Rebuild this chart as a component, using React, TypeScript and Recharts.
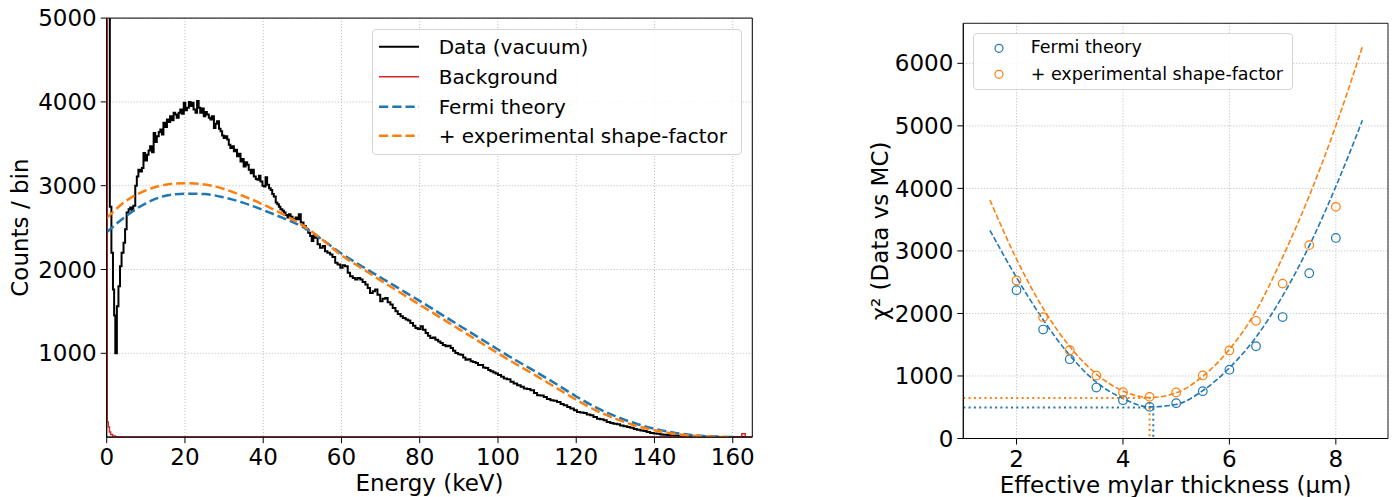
import React from 'react';
import {
  ComposedChart,
  Line,
  Scatter,
  XAxis,
  YAxis,
  CartesianGrid,
  ReferenceArea,
  Legend,
} from 'recharts';

const FONT = '"DejaVu Sans", Verdana, sans-serif';
const BLUE = '#1f77b4';
const ORANGE = '#ff7f0e';
const RED = '#d62728';

// ---- left panel: energy spectrum ----
// measured spectrum, [energy keV, counts/bin], read off the plot
const dataLowE: [number, number][] = [
  [0, 6500], [0.4, 6500], [0.8, 2750], [1.2, 2200], [1.6, 1760], [1.9, 1450], [2.2, 1000],
  [2.6, 1560], [3.0, 1800], [3.4, 2040], [3.8, 2200], [4.3, 2320], [4.7, 2480], [5.1, 2680],
  [5.6, 2720], [6.0, 2740], [6.4, 2700], [6.8, 2760], [7.3, 3000], [7.7, 3110], [8.1, 3190],
  [8.6, 3170], [9.0, 3210], [9.4, 3390], [9.8, 3300],
];
const dataRise: [number, number][] = [
  [10.3, 3370], [10.7, 3420], [11.1, 3470], [11.6, 3400], [12.0, 3630], [12.4, 3520],
  [12.8, 3590], [13.3, 3640], [13.7, 3670], [14.1, 3610], [14.5, 3750], [15.0, 3700],
  [15.4, 3790], [15.8, 3760], [16.2, 3830], [16.7, 3780], [17.1, 3870], [17.5, 3850],
  [17.9, 3810], [18.4, 3870], [18.8, 3910], [19.2, 3860], [19.7, 3990], [20.1, 3900],
  [20.5, 3930], [21.0, 4000], [21.4, 3950], [21.8, 3990], [22.2, 3910], [22.7, 3870],
  [23.1, 4010], [23.5, 3930], [23.9, 3870], [24.4, 3920], [24.8, 3830], [25.2, 3880],
  [25.6, 3850], [26.1, 3810], [26.5, 3790], [26.9, 3830], [27.4, 3690], [27.8, 3740],
  [28.2, 3770], [28.7, 3680], [29.1, 3650], [29.5, 3600], [29.9, 3570], [30.4, 3590],
  [30.8, 3550], [31.2, 3490], [31.6, 3450], [32.1, 3470], [32.5, 3410], [32.9, 3430],
  [33.3, 3350], [33.8, 3380], [34.2, 3290], [34.6, 3320], [35.0, 3230], [35.5, 3280],
  [35.9, 3250], [36.3, 3190], [36.8, 3150], [37.2, 3190], [37.6, 3110], [38.1, 3080],
  [38.5, 3070], [38.9, 3120], [39.3, 3050], [39.8, 3000], [40.2, 2990], [40.6, 3100],
  [41.0, 3010], [41.5, 2970], [41.9, 2950], [42.3, 2900], [42.7, 2870], [43.2, 2800],
  [43.6, 2780], [44.0, 2750], [44.4, 2720], [44.9, 2700], [45.3, 2680], [45.7, 2650],
  [46.2, 2620], [46.6, 2660], [47.0, 2630], [47.5, 2600], [47.9, 2600], [48.3, 2620],
  [48.7, 2600], [49.1, 2660], [49.6, 2560],
];
const dataFall: [number, number][] = [
  [50.3, 2518], [50.9, 2480], [51.5, 2438], [52.0, 2400], [52.4, 2339], [52.8, 2400],
  [53.2, 2378], [53.9, 2300], [54.5, 2259], [55.2, 2280], [55.8, 2219], [56.4, 2200],
  [57.1, 2179], [57.7, 2150], [58.4, 2080], [59.0, 2060], [59.7, 2020], [60.3, 2050],
  [60.9, 2040], [61.6, 1960], [62.2, 1920], [62.9, 1900], [63.5, 1880], [64.1, 1900],
  [64.8, 1880], [65.4, 1850], [66.1, 1821], [66.7, 1780], [67.3, 1721], [68.0, 1740],
  [68.6, 1761], [69.2, 1700], [69.9, 1622], [70.5, 1650], [71.2, 1661], [71.8, 1610],
  [72.5, 1582], [73.1, 1540], [73.8, 1502], [74.4, 1470], [75.1, 1442], [75.7, 1420],
  [76.4, 1402], [77.0, 1390], [77.6, 1363], [78.3, 1330], [78.9, 1303], [79.5, 1290],
  [80.2, 1323], [80.8, 1280], [81.5, 1243], [82.1, 1210], [82.7, 1183], [83.4, 1190],
  [84.0, 1163], [84.7, 1140], [85.3, 1124], [85.9, 1100], [86.6, 1084], [87.2, 1090],
  [87.9, 1064], [88.5, 1030], [89.1, 1004], [89.8, 990], [90.4, 984], [91.1, 950],
  [91.7, 924], [92.3, 930], [93.0, 904], [93.6, 895], [94.3, 884], [94.9, 860],
  [95.6, 860], [96.2, 830], [96.8, 825], [97.5, 800], [98.1, 785], [98.8, 770], [99.4, 760],
];
const dataTail: [number, number][] = [
  [100.0, 740], [100.8, 720], [101.5, 700], [102.3, 690], [103.2, 660], [104.0, 640],
  [104.9, 620], [105.8, 600], [106.6, 580], [107.4, 575], [108.3, 560], [109.2, 525],
  [110.0, 500], [110.8, 495], [111.7, 480], [112.5, 455], [113.4, 440], [114.2, 435],
  [115.1, 420], [116.0, 395], [116.8, 380], [117.7, 360], [118.5, 340], [119.4, 320],
  [120.2, 300], [121.0, 295], [121.9, 288], [122.7, 270], [123.6, 260], [124.4, 240],
  [125.3, 220], [126.1, 212], [127.0, 200], [127.8, 180], [128.7, 168], [129.5, 160],
  [130.4, 152], [131.2, 138], [132.1, 128], [133.0, 120], [133.8, 112], [134.7, 98],
  [135.5, 88], [136.4, 80], [137.2, 72], [138.0, 60], [138.9, 48], [139.8, 44],
  [140.6, 40], [141.5, 32], [142.3, 28], [143.2, 24], [144.0, 20], [145.3, 15],
  [146.6, 12], [148.0, 8], [150.0, 5], [153.0, 3], [156.0, 2], [160.0, 1], [165.0, 1],
];
const background: [number, number][] = [
  [0, 6500], [0.15, 180], [0.4, 120], [0.7, 60], [1.0, 30], [1.5, 12], [2.2, 5], [4, 2],
  [160, 2], [162.3, 40], [163.2, 4], [165, 2],
];

// theory curves (counts/bin) sampled every 5 keV
const theoryEnergy = [
  0, 5, 10, 15, 20, 25, 30, 35, 40, 45, 50, 55, 60, 65, 70, 75, 80,
  85, 90, 95, 100, 105, 110, 115, 120, 125, 130, 135, 140, 145, 150, 155, 160,
];
const fermiCounts = [
  2445, 2640, 2790, 2880, 2905, 2900, 2860, 2795, 2710, 2615, 2510, 2360, 2190, 2045, 1905, 1765, 1625,
  1480, 1335, 1190, 1045, 905, 770, 630, 485, 355, 250, 165, 100, 52, 22, 6, 0,
];
const shapeCounts = [
  2615, 2820, 2945, 3012, 3030, 3015, 2960, 2875, 2775, 2660, 2530, 2360, 2170, 2020, 1870, 1725, 1580,
  1435, 1290, 1145, 1000, 860, 725, 585, 445, 320, 220, 140, 82, 40, 15, 4, 0,
];
const energyTicks = [0, 20, 40, 60, 80, 100, 120, 140, 160];
const countTicks = [1000, 2000, 3000, 4000, 5000];

// ---- right panel: chi2 scan ----
const thickness = [2, 2.5, 3, 3.5, 4, 4.5, 5, 5.5, 6, 6.5, 7, 7.5, 8];
const chi2Fermi = [2371, 1742, 1268, 815, 613, 506, 565, 757, 1100, 1475, 1942, 2643, 3207];
const chi2Shape = [2528, 1940, 1412, 1005, 741, 666, 737, 1008, 1408, 1882, 2477, 3092, 3705];
const fitThickness = [1.5, 2, 2.5, 3, 3.5, 4, 4.5, 5, 5.5, 6, 6.5, 7, 7.5, 8, 8.5];
const fitFermi = [3330, 2575, 1900, 1330, 900, 640, 505, 545, 765, 1130, 1620, 2280, 3080, 4030, 5090];
const fitShape = [3815, 2870, 2080, 1470, 1030, 760, 655, 730, 995, 1425, 2040, 2900, 3880, 5000, 6270];
const minFermi = { x: 4.57, y: 497 };
const minShape = { x: 4.5, y: 647 };
const thicknessTicks = [2, 4, 6, 8];
const chi2Ticks = [0, 1000, 2000, 3000, 4000, 5000, 6000];

const toPts = (rows: [number, number][]) => rows.map(([x, y]) => ({ x, y }));
const zipPts = (xs: number[], ys: number[]) => xs.map((x, i) => ({ x, y: ys[i] }));

const spectrum = toPts([...dataLowE, ...dataRise, ...dataFall, ...dataTail]);
const bkg = toPts(background);
const fermiCurve = zipPts(theoryEnergy, fermiCounts);
const shapeCurve = zipPts(theoryEnergy, shapeCounts);

const chi2FermiPts = zipPts(thickness, chi2Fermi);
const chi2ShapePts = zipPts(thickness, chi2Shape);
const fitFermiPts = zipPts(fitThickness, fitFermi);
const fitShapePts = zipPts(fitThickness, fitShape);
const xMin = 1.0;
const minFermiPath = [{ x: xMin, y: minFermi.y }, minFermi, { x: minFermi.x, y: 0 }];
const minShapePath = [{ x: xMin, y: minShape.y }, minShape, { x: minShape.x, y: 0 }];

const tickStyle = { fill: '#000', fontSize: 23, fontFamily: FONT };
const labelStyle = { fill: '#000', fontSize: 23, fontFamily: FONT };

const leftLegendItems = [
  { name: 'Data (vacuum)', color: '#000', dash: undefined, width: 2 },
  { name: 'Background', color: RED, dash: undefined, width: 1.5 },
  { name: 'Fermi theory', color: BLUE, dash: '9.25 4', width: 2.5 },
  { name: '+ experimental shape-factor', color: ORANGE, dash: '9.25 4', width: 2.5 },
];
const rightLegendItems = [
  { name: 'Fermi theory', color: BLUE },
  { name: '+ experimental shape-factor', color: ORANGE },
];

const boxStyle: React.CSSProperties = {
  boxSizing: 'border-box',
  border: '1px solid #d5d5d5',
  borderRadius: 4,
  background: 'rgba(255,255,255,0.85)',
  fontFamily: FONT,
  color: '#000',
};

const LeftLegend = () => (
  <div style={{ ...boxStyle, width: 370, height: 126, paddingTop: 2, fontSize: 20 }}>
    {leftLegendItems.map((it) => (
      <div key={it.name} style={{ display: 'flex', alignItems: 'center', height: 29.7 }}>
        <svg width={66} height={29.7} style={{ flex: 'none' }}>
          <line x1={6} x2={46} y1={14.85} y2={14.85} stroke={it.color} strokeWidth={it.width} strokeDasharray={it.dash} />
        </svg>
        <span style={{ whiteSpace: 'nowrap', lineHeight: 1 }}>{it.name}</span>
      </div>
    ))}
  </div>
);

const RightLegend = () => (
  <div style={{ ...boxStyle, width: 320, height: 57, paddingTop: 1, fontSize: 17.5 }}>
    {rightLegendItems.map((it) => (
      <div key={it.name} style={{ display: 'flex', alignItems: 'center', height: 26.6 }}>
        <svg width={57} height={26.6} style={{ flex: 'none' }}>
          <circle cx={25} cy={13.3} r={4} fill="none" stroke={it.color} strokeWidth={1.2} />
        </svg>
        <span style={{ whiteSpace: 'nowrap', lineHeight: 1 }}>{it.name}</span>
      </div>
    ))}
  </div>
);

const openCircle = (color: string) => (props: any) => (
  <circle cx={props.cx} cy={props.cy} r={4.3} fill="none" stroke={color} strokeWidth={1.2} />
);

export default function App() {
  return (
    <div style={{ position: 'absolute', left: 0, top: 0, width: 1393, height: 497, background: '#fff' }}>
      <div style={{ position: 'absolute', left: 0, top: 0 }}>
        <ComposedChart width={770} height={497} margin={{ top: 18.1, right: 17.7, bottom: 21.9, left: 12 }}>
          <CartesianGrid stroke="#b8b8b8" strokeDasharray="1 2" />
          <XAxis
            type="number"
            dataKey="x"
            domain={[0, 165]}
            ticks={energyTicks}
            allowDataOverflow
            height={38}
            tickSize={6}
            tickMargin={6}
            tick={tickStyle}
            stroke="#000"
            label={{ value: 'Energy (keV)', position: 'bottom', offset: 0, style: labelStyle }}
          />
          <YAxis
            type="number"
            domain={[0, 5000]}
            ticks={countTicks}
            allowDataOverflow
            width={94.7}
            tickSize={6}
            tickMargin={4}
            tick={tickStyle}
            stroke="#000"
            label={{ value: 'Counts / bin', angle: -90, position: 'insideLeft', offset: 8, style: { ...labelStyle, textAnchor: 'middle' } }}
          />
          <ReferenceArea x1={0} x2={165} y1={0} y2={5000} fill="none" stroke="#000" strokeWidth={1} ifOverflow="visible" />
          <Line data={spectrum} dataKey="y" type="stepAfter" stroke="#000" strokeWidth={2} dot={false} activeDot={false} isAnimationActive={false} />
          <Line data={bkg} dataKey="y" type="stepAfter" stroke={RED} strokeWidth={1.5} dot={false} activeDot={false} isAnimationActive={false} />
          <Line data={fermiCurve} dataKey="y" type="monotone" stroke={BLUE} strokeWidth={2.5} strokeDasharray="9.25 4" dot={false} activeDot={false} isAnimationActive={false} />
          <Line data={shapeCurve} dataKey="y" type="monotone" stroke={ORANGE} strokeWidth={2.5} strokeDasharray="9.25 4" dot={false} activeDot={false} isAnimationActive={false} />
          <Legend
            layout="horizontal"
            verticalAlign="middle"
            align="center"
            content={() => <LeftLegend />}
            wrapperStyle={{ left: 371.7, top: 29.3, width: 370, height: 126 }}
          />
        </ComposedChart>
      </div>
      <div style={{ position: 'absolute', left: 860, top: 0 }}>
        <ComposedChart width={533} height={497} margin={{ top: 23.3, right: 5, bottom: 20.5, left: 12 }}>
          <CartesianGrid stroke="#b8b8b8" strokeDasharray="1 2" />
          <XAxis
            type="number"
            dataKey="x"
            domain={[xMin, 8.98]}
            ticks={thicknessTicks}
            allowDataOverflow
            height={38}
            tickSize={6}
            tickMargin={6}
            tick={tickStyle}
            stroke="#000"
            label={{ value: 'Effective mylar thickness (μm)', position: 'bottom', offset: 0, style: labelStyle }}
          />
          <YAxis
            type="number"
            domain={[0, 6640]}
            ticks={chi2Ticks}
            allowDataOverflow
            width={91.3}
            tickSize={6}
            tickMargin={4}
            tick={tickStyle}
            stroke="#000"
            label={{ value: 'χ² (Data vs MC)', angle: -90, position: 'insideLeft', offset: 8, style: { ...labelStyle, textAnchor: 'middle' } }}
          />
          <ReferenceArea x1={xMin} x2={8.98} y1={0} y2={6640} fill="none" stroke="#222" strokeWidth={1} ifOverflow="visible" />
          <Line data={fitFermiPts} dataKey="y" type="monotone" stroke={BLUE} strokeWidth={1.6} strokeDasharray="5.5 2.4" dot={false} activeDot={false} isAnimationActive={false} />
          <Line data={fitShapePts} dataKey="y" type="monotone" stroke={ORANGE} strokeWidth={1.6} strokeDasharray="5.5 2.4" dot={false} activeDot={false} isAnimationActive={false} />
          <Line data={minFermiPath} dataKey="y" type="linear" stroke={BLUE} strokeWidth={2} strokeDasharray="2 3.3" dot={false} activeDot={false} isAnimationActive={false} />
          <Line data={minShapePath} dataKey="y" type="linear" stroke={ORANGE} strokeWidth={2} strokeDasharray="2 3.3" dot={false} activeDot={false} isAnimationActive={false} />
          <Scatter data={chi2FermiPts} dataKey="y" shape={openCircle(BLUE)} isAnimationActive={false} />
          <Scatter data={chi2ShapePts} dataKey="y" shape={openCircle(ORANGE)} isAnimationActive={false} />
          <Legend
            layout="horizontal"
            verticalAlign="middle"
            align="center"
            content={() => <RightLegend />}
            wrapperStyle={{ left: 112.7, top: 32.7, width: 320, height: 57 }}
          />
        </ComposedChart>
      </div>
    </div>
  );
}
